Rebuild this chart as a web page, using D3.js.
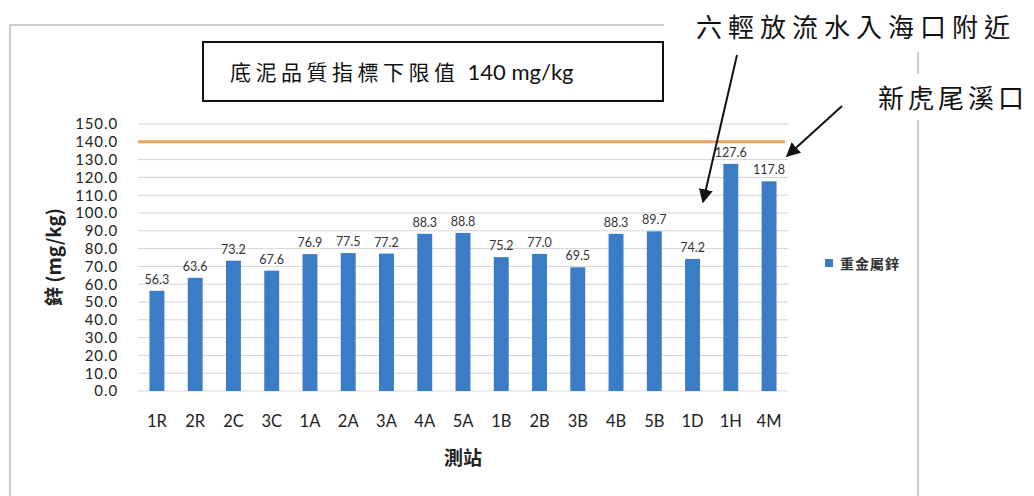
<!DOCTYPE html>
<html>
<head>
<meta charset="utf-8">
<script src="https://cdn.jsdelivr.net/npm/d3@7"></script>
<style>
  html, body { margin: 0; padding: 0; background: #fff; }
  svg { display: block; }
</style>
</head>
<body>
<svg id="chart" width="1034" height="496"></svg>
<script>
// Zinc concentration in sediment by monitoring station
const stations = ["1R","2R","2C","3C","1A","2A","3A","4A","5A","1B","2B","3B","4B","5B","1D","1H","4M"];
const zinc = [56.3, 63.6, 73.2, 67.6, 76.9, 77.5, 77.2, 88.3, 88.8, 75.2, 77.0, 69.5, 88.3, 89.7, 74.2, 127.6, 117.8];
const yTicks = [0,10,20,30,40,50,60,70,80,90,100,110,120,130,140,150];
const limitValue = 140;
const titleMain = "底泥品質指標下限值";
const titleUnit = "140 mg/kg";
const yTitle = "鋅 (mg/kg)";
const xTitle = "測站";
const legendLabel = "重金屬鋅";
const noteOutfall = "六輕放流水入海口附近";
const noteCreek = "新虎尾溪口";

const svg = d3.select("#chart");
const latin = "Lato, 'Open Sans', sans-serif";
const cjk = "'Noto Sans CJK TC', 'Noto Sans CJK SC', sans-serif";

const plot = { left: 138, right: 788, top: 124, bottom: 391 };

const x = d3.scaleBand()
  .domain(stations)
  .range([plot.left, plot.right])
  .paddingInner(0.61)
  .paddingOuter(0.3);

const y = d3.scaleLinear()
  .domain([0, 150])
  .range([plot.bottom, plot.top]);

// chart frame
svg.append("path")
  .attr("d", `M10,496 V25 H918 V496`)
  .attr("fill", "none")
  .attr("stroke", "#bdbdbd")
  .attr("stroke-width", 1.5);

// gridlines
svg.append("g")
  .selectAll("line")
  .data(yTicks.filter(t => t > 0))
  .join("line")
  .attr("x1", plot.left).attr("x2", plot.right)
  .attr("y1", d => y(d)).attr("y2", d => y(d))
  .attr("stroke", "#d4d4d4")
  .attr("stroke-width", 1);

// baseline
svg.append("line")
  .attr("x1", plot.left).attr("x2", plot.right)
  .attr("y1", y(0)).attr("y2", y(0))
  .attr("stroke", "#d9d9d9").attr("stroke-width", 1);

// y axis labels
const yAxis = d3.axisLeft(y).tickValues(yTicks).tickFormat(d3.format(".1f")).tickSize(0).tickPadding(0);
const yg = svg.append("g").attr("transform", `translate(118,0)`).call(yAxis);
yg.select(".domain").remove();
yg.selectAll("text")
  .attr("font-family", latin)
  .attr("font-size", 15)
  .attr("letter-spacing", 0.9)
  .attr("fill", "#222");

// x axis labels
const xAxis = d3.axisBottom(x).tickSize(0).tickPadding(0);
const xg = svg.append("g").attr("transform", `translate(0,415)`).call(xAxis);
xg.select(".domain").remove();
xg.selectAll("text")
  .attr("font-family", latin)
  .attr("font-size", 16.5)
  .attr("fill", "#222");

// bars
svg.append("g")
  .selectAll("rect")
  .data(stations.map((s, i) => ({ s, v: zinc[i] })))
  .join("rect")
  .attr("x", d => x(d.s))
  .attr("width", x.bandwidth())
  .attr("y", d => y(d.v))
  .attr("height", d => y(0) - y(d.v))
  .attr("fill", "#3b7cc6");

// value labels
svg.append("g")
  .selectAll("text")
  .data(stations.map((s, i) => ({ s, v: zinc[i] })))
  .join("text")
  .attr("x", d => x(d.s) + x.bandwidth() / 2)
  .attr("y", d => y(d.v) - 7)
  .attr("text-anchor", "middle")
  .attr("font-family", latin)
  .attr("font-size", 12.5)
  .attr("fill", "#333")
  .text(d => d.v.toFixed(1));

// limit line
svg.append("line")
  .attr("x1", plot.left).attr("x2", plot.right - 3)
  .attr("y1", y(limitValue)).attr("y2", y(limitValue))
  .attr("stroke", "#eea35f")
  .attr("stroke-width", 3);

// axis titles
svg.append("text")
  .attr("transform", `translate(61,257) rotate(-90)`)
  .attr("text-anchor", "middle")
  .attr("font-family", cjk)
  .attr("font-weight", "bold")
  .attr("font-size", 19)
  .attr("fill", "#222")
  .text(yTitle);

svg.append("text")
  .attr("x", 463).attr("y", 465)
  .attr("text-anchor", "middle")
  .attr("font-family", cjk)
  .attr("font-weight", "bold")
  .attr("font-size", 19)
  .attr("fill", "#222")
  .text(xTitle);

// legend
svg.append("rect")
  .attr("x", 825).attr("y", 259).attr("width", 8).attr("height", 8)
  .attr("fill", "#3b7cc6");
svg.append("text")
  .attr("x", 840).attr("y", 269)
  .attr("font-family", cjk)
  .attr("font-weight", "bold")
  .attr("font-size", 14)
  .attr("letter-spacing", 1)
  .attr("fill", "#333")
  .text(legendLabel);

// title box
svg.append("rect")
  .attr("x", 203).attr("y", 42).attr("width", 460).attr("height", 59)
  .attr("fill", "#fff")
  .attr("stroke", "#111")
  .attr("stroke-width", 2);
const tt = svg.append("text")
  .attr("x", 230).attr("y", 80)
  .attr("font-size", 21)
  .attr("fill", "#111");
tt.append("tspan").attr("font-family", cjk).attr("letter-spacing", 4.5).text(titleMain);
tt.append("tspan").attr("font-family", latin).attr("font-size", 22).attr("dx", 8).text(titleUnit);

// callout notes with arrows
svg.append("defs").append("marker")
  .attr("id", "arrowhead")
  .attr("viewBox", "0 0 10 10")
  .attr("refX", 9).attr("refY", 5)
  .attr("markerWidth", 7).attr("markerHeight", 7)
  .attr("markerUnits", "strokeWidth")
  .attr("orient", "auto")
  .append("path").attr("d", "M0,0 L10,5 L0,10 z").attr("fill", "#111");

svg.append("rect").attr("x", 664).attr("y", 0).attr("width", 370).attr("height", 52).attr("fill", "#fff");
svg.append("rect").attr("x", 862).attr("y", 74).attr("width", 172).attr("height", 46).attr("fill", "#fff");

svg.append("text")
  .attr("x", 696).attr("y", 37)
  .attr("font-family", cjk)
  .attr("font-size", 26)
  .attr("letter-spacing", 6)
  .attr("fill", "#111")
  .text(noteOutfall);

svg.append("text")
  .attr("x", 878).attr("y", 108)
  .attr("font-family", cjk)
  .attr("font-size", 26)
  .attr("letter-spacing", 4)
  .attr("fill", "#111")
  .text(noteCreek);

svg.append("line")
  .attr("x1", 737).attr("y1", 55).attr("x2", 703).attr("y2", 202)
  .attr("stroke", "#111").attr("stroke-width", 2)
  .attr("marker-end", "url(#arrowhead)");

svg.append("line")
  .attr("x1", 842).attr("y1", 106).attr("x2", 787).attr("y2", 156)
  .attr("stroke", "#111").attr("stroke-width", 2)
  .attr("marker-end", "url(#arrowhead)");
</script>
</body>
</html>
